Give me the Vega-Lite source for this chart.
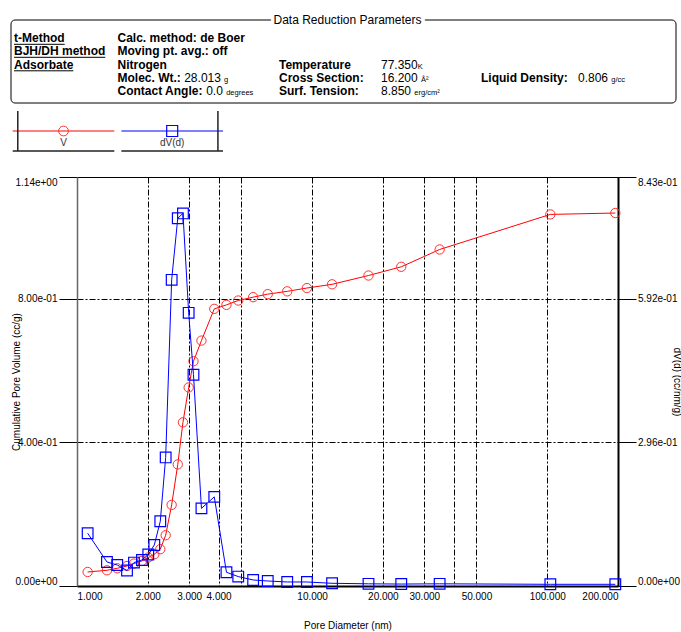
{
  "$schema": "https://vega.github.io/schema/vega-lite/v6.json",
  "padding": {"left": 10, "top": 14, "right": 0, "bottom": 0},
  "background": "white",
  "bounds": "flush",
  "spacing": 8,
  "config": {
    "font": "Liberation Sans",
    "view": {"stroke": null},
    "axis": {"labelColor": "#000", "titleColor": "#000", "titleFontWeight": "normal", "labelFontSize": 10, "titleFontSize": 10}
  },
  "datasets": {
    "header": [
      {"row": 0, "col": 11, "text": "Data Reduction Parameters", "kind": "title"},
      {"row": 1, "col": 1, "text": "t-Method", "kind": "heading"},
      {"row": 2, "col": 1, "text": "BJH/DH method", "kind": "heading"},
      {"row": 3, "col": 1, "text": "Adsorbate", "kind": "heading"},
      {"row": 1, "col": 5, "text": "Calc. method: de Boer", "kind": "label"},
      {"row": 2, "col": 5, "text": "Moving pt. avg.: off", "kind": "label"},
      {"row": 3, "col": 5, "text": "Nitrogen", "kind": "label"},
      {"row": 4, "col": 5, "text": "Molec. Wt.:", "kind": "label"},
      {"row": 4, "col": 6, "text": "28.013", "kind": "value"},
      {"row": 4, "col": 8, "text": "g", "kind": "unit"},
      {"row": 5, "col": 5, "text": "Contact Angle:", "kind": "label"},
      {"row": 5, "col": 7, "text": "0.0", "kind": "value"},
      {"row": 5, "col": 9, "text": "degrees", "kind": "unit"},
      {"row": 3, "col": 10, "text": "Temperature", "kind": "label"},
      {"row": 4, "col": 10, "text": "Cross Section:", "kind": "label"},
      {"row": 5, "col": 10, "text": "Surf. Tension:", "kind": "label"},
      {"row": 3, "col": 12, "text": "77.350", "kind": "value"},
      {"row": 3, "col": 14, "text": "K", "kind": "unit"},
      {"row": 4, "col": 12, "text": "16.200", "kind": "value"},
      {"row": 4, "col": 15, "text": "Å²", "kind": "unit"},
      {"row": 5, "col": 12, "text": "8.850", "kind": "value"},
      {"row": 5, "col": 13, "text": "erg/cm²", "kind": "unit"},
      {"row": 4, "col": 16, "text": "Liquid Density:", "kind": "label"},
      {"row": 4, "col": 17, "text": "0.806", "kind": "value"},
      {"row": 4, "col": 18, "text": "g/cc", "kind": "unit"}
    ],
    "underlines": [
      {"row": 1, "start": 1, "end": 2},
      {"row": 2, "start": 1, "end": 4},
      {"row": 3, "start": 1, "end": 3}
    ],
    "legend": [{"series": "V"}, {"series": "dV(d)"}],
    "pores": [
      {"diameter": 1.110, "V": 0.0391, "dV": 0.1088},
      {"diameter": 1.341, "V": 0.0438, "dV": 0.0495},
      {"diameter": 1.483, "V": 0.0494, "dV": 0.0433},
      {"diameter": 1.632, "V": 0.0558, "dV": 0.0320},
      {"diameter": 1.747, "V": 0.0625, "dV": 0.0483},
      {"diameter": 1.889, "V": 0.0698, "dV": 0.0537},
      {"diameter": 2.010, "V": 0.0793, "dV": 0.0648},
      {"diameter": 2.132, "V": 0.0885, "dV": 0.0846},
      {"diameter": 2.261, "V": 0.1025, "dV": 0.1335},
      {"diameter": 2.383, "V": 0.1415, "dV": 0.2650},
      {"diameter": 2.527, "V": 0.2261, "dV": 0.6310},
      {"diameter": 2.683, "V": 0.3389, "dV": 0.7580},
      {"diameter": 2.823, "V": 0.4562, "dV": 0.7680},
      {"diameter": 2.985, "V": 0.5533, "dV": 0.5630},
      {"diameter": 3.129, "V": 0.6265, "dV": 0.4355},
      {"diameter": 3.383, "V": 0.6840, "dV": 0.1600},
      {"diameter": 3.836, "V": 0.7725, "dV": 0.1837},
      {"diameter": 4.322, "V": 0.7836, "dV": 0.0283},
      {"diameter": 4.851, "V": 0.7957, "dV": 0.0194},
      {"diameter": 5.613, "V": 0.8051, "dV": 0.0124},
      {"diameter": 6.476, "V": 0.8135, "dV": 0.0103},
      {"diameter": 7.836, "V": 0.8213, "dV": 0.0083},
      {"diameter": 9.504, "V": 0.8305, "dV": 0.0083},
      {"diameter": 12.16, "V": 0.8409, "dV": 0.0056},
      {"diameter": 17.37, "V": 0.8654, "dV": 0.0045},
      {"diameter": 23.94, "V": 0.8897, "dV": 0.0040},
      {"diameter": 34.87, "V": 0.9380, "dV": 0.0045},
      {"diameter": 103.1, "V": 1.0357, "dV": 0.0035},
      {"diameter": 194.8, "V": 1.0396, "dV": 0.0035}
    ]
  },
  "vconcat": [
    {
      "width": 541,
      "height": 83,
      "data": {"name": "header"},
      "layer": [
        {
          "data": {"values": [{}]},
          "mark": {"type": "rect", "filled": false, "color": "#000", "strokeWidth": 1, "cornerRadius": 4},
          "encoding": {
            "x": {"datum": 0, "type": "quantitative", "axis": null, "scale": {"type": "linear", "zero": false, "nice": false, "domain": [0,1,2,3,4,5,6,7,8,9,10,11,12,13,14,15,16,17,18,19], "range": [-66,-63,-12.3,-3.7,28.3,40.5,107.2,129.2,147,149.2,202,270.5,304,337.3,340.7,344,404,501,534.3,599]}},
            "x2": {"datum": 19},
            "y": {"datum": 0, "type": "quantitative", "axis": null, "scale": {"type": "linear", "zero": false, "nice": false, "domain": [0,1,2,3,4,5,6], "range": [0,22.3,35.3,48.8,61.8,74.8,83]}},
            "y2": {"datum": 6}
          }
        },
        {
          "transform": [{"filter": "datum.kind == 'title'"}],
          "mark": {"type": "text", "fontSize": 12, "align": "center", "baseline": "middle", "fill": "white", "stroke": "white", "strokeWidth": 7},
          "encoding": {
            "x": {"field": "col", "type": "quantitative", "axis": null, "scale": {"type": "linear", "zero": false, "nice": false, "domain": [0,1,2,3,4,5,6,7,8,9,10,11,12,13,14,15,16,17,18,19], "range": [-66,-63,-12.3,-3.7,28.3,40.5,107.2,129.2,147,149.2,202,270.5,304,337.3,340.7,344,404,501,534.3,599]}},
            "y": {"field": "row", "type": "quantitative", "axis": null, "scale": {"type": "linear", "zero": false, "nice": false, "domain": [0,1,2,3,4,5,6], "range": [0,22.3,35.3,48.8,61.8,74.8,83]}},
            "text": {"field": "text"}
          }
        },
        {
          "transform": [{"filter": "datum.kind == 'title'"}],
          "mark": {"type": "text", "fontSize": 12, "align": "center", "baseline": "middle", "color": "#000"},
          "encoding": {
            "x": {"field": "col", "type": "quantitative", "axis": null, "scale": {"type": "linear", "zero": false, "nice": false, "domain": [0,1,2,3,4,5,6,7,8,9,10,11,12,13,14,15,16,17,18,19], "range": [-66,-63,-12.3,-3.7,28.3,40.5,107.2,129.2,147,149.2,202,270.5,304,337.3,340.7,344,404,501,534.3,599]}},
            "y": {"field": "row", "type": "quantitative", "axis": null, "scale": {"type": "linear", "zero": false, "nice": false, "domain": [0,1,2,3,4,5,6], "range": [0,22.3,35.3,48.8,61.8,74.8,83]}},
            "text": {"field": "text"}
          }
        },
        {
          "transform": [{"filter": "datum.kind == 'heading' || datum.kind == 'label'"}],
          "mark": {"type": "text", "fontSize": 12, "fontWeight": "bold", "align": "left", "baseline": "alphabetic", "color": "#000"},
          "encoding": {
            "x": {"field": "col", "type": "quantitative", "axis": null, "scale": {"type": "linear", "zero": false, "nice": false, "domain": [0,1,2,3,4,5,6,7,8,9,10,11,12,13,14,15,16,17,18,19], "range": [-66,-63,-12.3,-3.7,28.3,40.5,107.2,129.2,147,149.2,202,270.5,304,337.3,340.7,344,404,501,534.3,599]}},
            "y": {"field": "row", "type": "quantitative", "axis": null, "scale": {"type": "linear", "zero": false, "nice": false, "domain": [0,1,2,3,4,5,6], "range": [0,22.3,35.3,48.8,61.8,74.8,83]}},
            "text": {"field": "text"}
          }
        },
        {
          "transform": [{"filter": "datum.kind == 'value'"}],
          "mark": {"type": "text", "fontSize": 12, "align": "left", "baseline": "alphabetic", "color": "#000"},
          "encoding": {
            "x": {"field": "col", "type": "quantitative", "axis": null, "scale": {"type": "linear", "zero": false, "nice": false, "domain": [0,1,2,3,4,5,6,7,8,9,10,11,12,13,14,15,16,17,18,19], "range": [-66,-63,-12.3,-3.7,28.3,40.5,107.2,129.2,147,149.2,202,270.5,304,337.3,340.7,344,404,501,534.3,599]}},
            "y": {"field": "row", "type": "quantitative", "axis": null, "scale": {"type": "linear", "zero": false, "nice": false, "domain": [0,1,2,3,4,5,6], "range": [0,22.3,35.3,48.8,61.8,74.8,83]}},
            "text": {"field": "text"}
          }
        },
        {
          "transform": [{"filter": "datum.kind == 'unit'"}],
          "mark": {"type": "text", "fontSize": 7.5, "align": "left", "baseline": "alphabetic", "color": "#000"},
          "encoding": {
            "x": {"field": "col", "type": "quantitative", "axis": null, "scale": {"type": "linear", "zero": false, "nice": false, "domain": [0,1,2,3,4,5,6,7,8,9,10,11,12,13,14,15,16,17,18,19], "range": [-66,-63,-12.3,-3.7,28.3,40.5,107.2,129.2,147,149.2,202,270.5,304,337.3,340.7,344,404,501,534.3,599]}},
            "y": {"field": "row", "type": "quantitative", "axis": null, "scale": {"type": "linear", "zero": false, "nice": false, "domain": [0,1,2,3,4,5,6], "range": [0,22.3,35.3,48.8,61.8,74.8,83]}},
            "text": {"field": "text"}
          }
        },
        {
          "data": {"name": "underlines"},
          "mark": {"type": "rule", "color": "#000", "strokeWidth": 1, "yOffset": 2},
          "encoding": {
            "x": {"field": "start", "type": "quantitative", "axis": null, "scale": {"type": "linear", "zero": false, "nice": false, "domain": [0,1,2,3,4,5,6,7,8,9,10,11,12,13,14,15,16,17,18,19], "range": [-66,-63,-12.3,-3.7,28.3,40.5,107.2,129.2,147,149.2,202,270.5,304,337.3,340.7,344,404,501,534.3,599]}},
            "x2": {"field": "end"},
            "y": {"field": "row", "type": "quantitative", "axis": null, "scale": {"type": "linear", "zero": false, "nice": false, "domain": [0,1,2,3,4,5,6], "range": [0,22.3,35.3,48.8,61.8,74.8,83]}}
          }
        }
      ]
    },
    {
      "width": 541,
      "height": 58,
      "data": {"name": "legend"},
      "layer": [
        {
          "mark": {"type": "rule", "strokeWidth": 1},
          "encoding": {
            "x": {"field": "series", "type": "nominal", "bandPosition": 0, "axis": null, "scale": {"type": "band", "domain": ["V", "dV(d)"], "range": [-64.3, 146], "paddingInner": 0.065, "paddingOuter": 0}},
            "x2": {"field": "series", "bandPosition": 1},
            "y": {"datum": 1, "type": "quantitative", "axis": null, "scale": {"type": "linear", "zero": false, "nice": false, "domain": [0,1,2,3], "range": [0,20,32,40]}},
            "color": {"field": "series", "type": "nominal", "legend": null, "scale": {"domain": ["V", "dV(d)"], "range": ["#ff0000", "#0000ff"]}}
          }
        },
        {
          "mark": {"type": "rule", "strokeWidth": 1.5, "color": "#222"},
          "encoding": {
            "x": {"field": "series", "type": "nominal", "bandPosition": 0, "axis": null, "scale": {"type": "band", "domain": ["V", "dV(d)"], "range": [-64.3, 146], "paddingInner": 0.065, "paddingOuter": 0}},
            "x2": {"field": "series", "bandPosition": 1},
            "y": {"datum": 3, "type": "quantitative", "axis": null, "scale": {"type": "linear", "zero": false, "nice": false, "domain": [0,1,2,3], "range": [0,20,32,40]}}
          }
        },
        {
          "transform": [{"filter": "datum.series == 'V'"}],
          "mark": {"type": "rule", "strokeWidth": 1.5, "color": "#222"},
          "encoding": {
            "x": {"field": "series", "type": "nominal", "bandPosition": 0.05, "axis": null, "scale": {"type": "band", "domain": ["V", "dV(d)"], "range": [-64.3, 146], "paddingInner": 0.065, "paddingOuter": 0}},
            "y": {"datum": 0, "type": "quantitative", "axis": null, "scale": {"type": "linear", "zero": false, "nice": false, "domain": [0,1,2,3], "range": [0,20,32,40]}},
            "y2": {"datum": 3}
          }
        },
        {
          "transform": [{"filter": "datum.series == 'dV(d)'"}],
          "mark": {"type": "rule", "strokeWidth": 1.5, "color": "#222"},
          "encoding": {
            "x": {"field": "series", "type": "nominal", "bandPosition": 0.95, "axis": null, "scale": {"type": "band", "domain": ["V", "dV(d)"], "range": [-64.3, 146], "paddingInner": 0.065, "paddingOuter": 0}},
            "y": {"datum": 0, "type": "quantitative", "axis": null, "scale": {"type": "linear", "zero": false, "nice": false, "domain": [0,1,2,3], "range": [0,20,32,40]}},
            "y2": {"datum": 3}
          }
        },
        {
          "transform": [{"filter": "datum.series == 'V'"}],
          "mark": {"type": "point", "shape": "circle", "filled": false, "size": 95, "strokeWidth": 1, "color": "#ff3030", "opacity": 1},
          "encoding": {
            "x": {"field": "series", "type": "nominal", "axis": null, "scale": {"type": "band", "domain": ["V", "dV(d)"], "range": [-64.3, 146], "paddingInner": 0.065, "paddingOuter": 0}},
            "y": {"datum": 1, "type": "quantitative", "axis": null, "scale": {"type": "linear", "zero": false, "nice": false, "domain": [0,1,2,3], "range": [0,20,32,40]}}
          }
        },
        {
          "transform": [{"filter": "datum.series == 'dV(d)'"}],
          "mark": {"type": "point", "shape": "square", "filled": false, "size": 121, "strokeWidth": 1.2, "color": "#0000ff", "opacity": 1},
          "encoding": {
            "x": {"field": "series", "type": "nominal", "axis": null, "scale": {"type": "band", "domain": ["V", "dV(d)"], "range": [-64.3, 146], "paddingInner": 0.065, "paddingOuter": 0}},
            "y": {"datum": 1, "type": "quantitative", "axis": null, "scale": {"type": "linear", "zero": false, "nice": false, "domain": [0,1,2,3], "range": [0,20,32,40]}}
          }
        },
        {
          "mark": {"type": "text", "fontSize": 10, "align": "center", "baseline": "middle", "color": "#333"},
          "encoding": {
            "x": {"field": "series", "type": "nominal", "axis": null, "scale": {"type": "band", "domain": ["V", "dV(d)"], "range": [-64.3, 146], "paddingInner": 0.065, "paddingOuter": 0}},
            "y": {"datum": 2, "type": "quantitative", "axis": null, "scale": {"type": "linear", "zero": false, "nice": false, "domain": [0,1,2,3], "range": [0,20,32,40]}},
            "text": {"field": "series"}
          }
        }
      ]
    },
    {
      "width": 541,
      "height": 409,
      "view": {"stroke": "#000", "strokeWidth": 1},
      "data": {"name": "pores"},
      "encoding": {
        "x": {
          "field": "diameter",
          "type": "quantitative",
          "scale": {"type": "log", "domain": [1, 200], "nice": false},
          "axis": {
            "title": "Pore Diameter (nm)",
            "values": [1, 2, 3, 4, 5, 10, 20, 30, 40, 50, 100, 200],
            "labelExpr": "datum.value == 5 || datum.value == 40 ? '' : format(datum.value, '.3f')",
            "labelFlush": true,
            "labelPadding": 5,
            "labelOverlap": false,
            "ticks": false,
            "grid": true,
            "gridColor": "#000",
            "gridWidth": 1,
            "gridDash": [6, 2, 2, 2],
            "gridOpacity": {"condition": {"test": "datum.value == 1 || datum.value == 200", "value": 0}, "value": 1},
            "domainColor": "#000",
            "domainWidth": 2,
            "titlePadding": 19
          }
        }
      },
      "layer": [
        {
          "encoding": {
            "y": {
              "field": "V",
              "type": "quantitative",
              "scale": {"domain": [0, 1.14], "nice": false, "zero": false},
              "axis": {
                "orient": "left",
                "title": "Cumulative Pore Volume (cc/g)",
                "values": [0, 0.4, 0.8, 1.14],
                "labelExpr": "replace(replace(format(datum.value, '.2e'), 'e-', 'e-0'), 'e+', 'e+0')",
                "labelFlush": true,
                "labelPadding": 2,
                "tickSize": 18,
                "tickColor": "#000",
                "grid": true,
                "gridColor": "#000",
                "gridWidth": 1,
                "gridDash": [6, 2, 2, 2],
                "gridOpacity": {"condition": {"test": "datum.value == 0 || datum.value == 1.14", "value": 0}, "value": 1},
                "domainColor": "#666",
                "domainWidth": 1.5,
                "titleX": -61,
                "titleBaseline": "middle"
              }
            }
          },
          "layer": [
            {"mark": {"type": "line", "color": "#ff0000", "strokeWidth": 1}},
            {"mark": {"type": "point", "shape": "circle", "filled": false, "size": 87, "strokeWidth": 1, "color": "#ff3030", "opacity": 1}}
          ]
        },
        {
          "encoding": {
            "y": {
              "field": "dV",
              "type": "quantitative",
              "scale": {"domain": [0, 0.843], "nice": false, "zero": false},
              "axis": {
                "orient": "right",
                "title": "dV(d) (cc/nm/g)",
                "values": [0, 0.296, 0.592, 0.843],
                "labelExpr": "replace(replace(format(datum.value, '.2e'), 'e-', 'e-0'), 'e+', 'e+0')",
                "labelFlush": true,
                "labelPadding": 1.5,
                "tickSize": 18,
                "tickColor": "#000",
                "grid": false,
                "domainColor": "#000",
                "domainWidth": 2,
                "titleX": 58,
                "titleBaseline": "middle"
              }
            }
          },
          "layer": [
            {"mark": {"type": "line", "color": "#0000ff", "strokeWidth": 1}},
            {"mark": {"type": "point", "shape": "square", "filled": false, "size": 114, "strokeWidth": 1.2, "color": "#0000ff", "opacity": 1}}
          ]
        }
      ],
      "resolve": {"scale": {"y": "independent"}}
    }
  ]
}
